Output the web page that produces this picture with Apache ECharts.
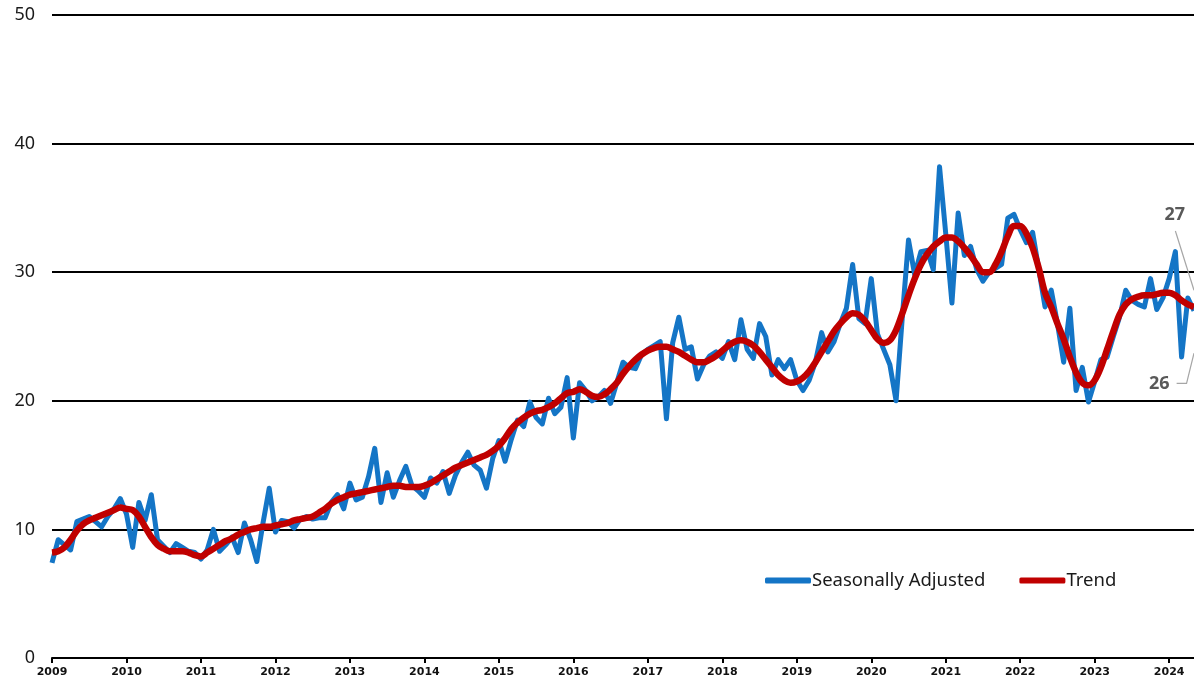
<!DOCTYPE html>
<html>
<head>
<meta charset="UTF-8">
<title>Seasonally Adjusted vs Trend</title>
<script src="https://cdn.jsdelivr.net/npm/echarts@6/dist/echarts.min.js"></script>
<style>
  html, body { margin: 0; padding: 0; background: #fff; }
  #main { width: 1194px; height: 685px; }
</style>
</head>
<body>
<div id="main"></div>
<script type="text/javascript">
// monthly data, Jan 2009 .. May 2024
var startYear = 2009;
var yearLabels = ['2009','2010','2011','2012','2013','2014','2015','2016','2017','2018','2019','2020','2021','2022','2023','2024'];

var seasonallyAdjusted = [
  // 2009
  7.4, 9.2, 8.8, 8.4, 10.6, 10.8, 11.0, 10.6, 10.2, 11.0, 11.6, 12.4,
  // 2010
  11.2, 8.6, 12.1, 10.7, 12.7, 9.2, 8.7, 8.2, 8.9, 8.6, 8.3, 8.2,
  // 2011
  7.7, 8.4, 10.0, 8.3, 8.8, 9.4, 8.2, 10.5, 9.2, 7.5, 10.5, 13.2,
  // 2012
  9.8, 10.7, 10.6, 10.1, 10.8, 11.0, 10.8, 10.9, 10.9, 12.1, 12.7, 11.6,
  // 2013
  13.6, 12.3, 12.5, 14.1, 16.3, 12.1, 14.4, 12.5, 13.8, 14.9, 13.4, 13.0,
  // 2014
  12.5, 14.0, 13.6, 14.5, 12.8, 14.2, 15.2, 16.0, 15.0, 14.6, 13.2, 15.5,
  // 2015
  16.9, 15.3, 17.0, 18.5, 18.0, 19.9, 18.7, 18.2, 20.2, 19.0, 19.5, 21.8,
  // 2016
  17.1, 21.4, 20.8, 20.0, 20.3, 20.8, 19.8, 21.4, 23.0, 22.6, 22.5, 23.6,
  // 2017
  24.0, 24.3, 24.6, 18.6, 24.5, 26.5, 24.0, 24.2, 21.7, 22.8, 23.5, 23.8,
  // 2018
  23.3, 24.6, 23.2, 26.3, 24.0, 23.3, 26.0, 25.0, 22.0, 23.2, 22.5, 23.2,
  // 2019
  21.6, 20.8, 21.6, 23.0, 25.3, 23.8, 24.6, 26.0, 27.2, 30.6, 26.4, 26.0,
  // 2020
  29.5, 25.2, 24.0, 22.8, 20.0, 26.5, 32.5, 29.8, 31.6, 31.7, 30.2, 38.2,
  // 2021
  33.0, 27.6, 34.6, 31.3, 32.0, 30.2, 29.3, 30.0, 30.3, 30.6, 34.2, 34.5,
  // 2022
  33.3, 32.3, 33.1, 30.2, 27.3, 28.6, 26.0, 23.0, 27.2, 20.8, 22.6, 19.9,
  // 2023
  21.5, 23.2, 23.4, 25.0, 26.5, 28.6, 27.8, 27.5, 27.3, 29.5, 27.1, 28.0,
  // 2024
  29.5, 31.6, 23.4, 28.0, 27.0
];

var trend = [
  // 2009
  8.2, 8.3, 8.6, 9.2, 9.9, 10.4, 10.7, 10.9, 11.1, 11.3, 11.5, 11.7,
  // 2010
  11.6, 11.5, 11.0, 10.2, 9.4, 8.8, 8.5, 8.3, 8.3, 8.3, 8.2, 8.0,
  // 2011
  7.9, 8.2, 8.5, 8.8, 9.1, 9.3, 9.6, 9.8, 10.0, 10.1, 10.2, 10.2,
  // 2012
  10.3, 10.4, 10.5, 10.7, 10.8, 10.9, 11.0, 11.3, 11.6, 12.0, 12.3, 12.5,
  // 2013
  12.7, 12.8, 12.9, 13.0, 13.1, 13.2, 13.3, 13.4, 13.4, 13.3, 13.3, 13.3,
  // 2014
  13.4, 13.6, 13.9, 14.2, 14.5, 14.8, 15.0, 15.2, 15.4, 15.6, 15.8, 16.1,
  // 2015
  16.5, 17.1, 17.8, 18.3, 18.7, 19.0, 19.2, 19.3, 19.5, 19.8, 20.2, 20.6,
  // 2016
  20.7, 20.9, 20.7, 20.4, 20.3, 20.5, 20.9, 21.4, 22.1, 22.7, 23.2, 23.6,
  // 2017
  23.9, 24.1, 24.2, 24.2, 24.0, 23.8, 23.5, 23.2, 23.0, 23.0, 23.2, 23.5,
  // 2018
  23.9, 24.3, 24.6, 24.7, 24.6, 24.3, 23.8, 23.2, 22.6, 22.0, 21.6, 21.4,
  // 2019
  21.5, 21.8, 22.3, 23.0, 23.8, 24.6, 25.4, 26.0, 26.5, 26.8, 26.7, 26.2,
  // 2020
  25.5, 24.8, 24.5, 24.7, 25.5, 26.8, 28.2, 29.5, 30.6, 31.4, 32.0, 32.4,
  // 2021
  32.7, 32.7, 32.4, 31.9, 31.3, 30.6, 30.0, 30.0, 30.6, 31.6, 32.8, 33.6,
  // 2022
  33.6, 33.0, 31.9, 30.3, 28.4, 27.3, 26.0, 24.8, 23.4, 22.2, 21.4, 21.2,
  // 2023
  21.6, 22.6, 24.0, 25.4, 26.7, 27.5, 27.9, 28.1, 28.2, 28.2, 28.3, 28.4,
  // 2024
  28.4, 28.2, 27.8, 27.5, 27.3
];

var yTicks = [0, 10, 20, 30, 40, 50];

function toPairs(arr) {
  var out = [];
  for (var i = 0; i < arr.length; i++) {
    out.push([i, arr[i]]);
  }
  return out;
}

var myChart = echarts.init(document.getElementById('main'));
var lastIdx = seasonallyAdjusted.length - 1;

var option = {
  animation: false,
  backgroundColor: '#ffffff',
  grid: { left: 52, right: 0, top: 15, bottom: 27 },
  legend: {
    left: 760, top: 566,
    itemWidth: 46, itemHeight: 6, itemGap: 34,
    icon: 'roundRect',
    textStyle: { fontFamily: 'Noto Sans', fontSize: 18.5, color: '#1a1a1a', padding: [0, 0, 0, -4] },
    data: ['Seasonally Adjusted', 'Trend']
  },
  xAxis: {
    type: 'value',
    min: 0, max: lastIdx, interval: 12,
    axisLine: { show: true, lineStyle: { color: '#000', width: 2 } },
    axisTick: { show: true, length: 5, lineStyle: { color: '#000', width: 2 } },
    axisLabel: {
      fontFamily: 'DejaVu Sans', fontWeight: 'bold', fontSize: 11, color: '#111', margin: 9,
      showMaxLabel: false,
      formatter: function (v) { return yearLabels[Math.round(v / 12)] || ''; }
    },
    splitLine: { show: false }
  },
  yAxis: {
    type: 'value',
    min: yTicks[0], max: yTicks[yTicks.length - 1], interval: 10,
    axisLine: { show: false },
    axisTick: { show: false },
    axisLabel: { fontFamily: 'Noto Sans', fontSize: 18, color: '#1a1a1a', margin: 17 },
    splitLine: { show: true, lineStyle: { color: '#000', width: 2 } }
  },
  series: [
    {
      name: 'Seasonally Adjusted',
      type: 'line',
      data: toPairs(seasonallyAdjusted),
      symbol: 'none',
      color: '#1475C6',
      lineStyle: { width: 5, color: '#1475C6', join: 'round' },
      z: 2
    },
    {
      name: 'Trend',
      type: 'line',
      data: toPairs(trend),
      symbol: 'none',
      smooth: 0.35,
      color: '#C00000',
      lineStyle: { width: 6.5, color: '#C00000' },
      z: 3
    }
  ]
};
myChart.setOption(option);

// callout labels on the right edge, placed in data space
function px(m, v) { return myChart.convertToPixel({ gridIndex: 0 }, [m, v]); }
var p27 = px(180.9, 34.45), a27 = px(181.0, 33.2), b27 = px(lastIdx, 28.6);
var p26 = px(178.4, 21.35), a26 = px(181.2, 21.35), c26 = px(182.8, 21.35), d26 = px(lastIdx, 23.7);
myChart.setOption({
  graphic: [
    { type: 'text', x: p27[0], y: p27[1], style: { text: '27', fontFamily: 'Noto Sans', fontWeight: 'bold', fontSize: 18, fill: '#595959', align: 'center', verticalAlign: 'middle' } },
    { type: 'polyline', shape: { points: [a27, b27] }, style: { stroke: '#a6a6a6', lineWidth: 1.2, fill: null } },
    { type: 'text', x: p26[0], y: p26[1], style: { text: '26', fontFamily: 'Noto Sans', fontWeight: 'bold', fontSize: 18, fill: '#595959', align: 'center', verticalAlign: 'middle' } },
    { type: 'polyline', shape: { points: [a26, c26, d26] }, style: { stroke: '#a6a6a6', lineWidth: 1.2, fill: null } }
  ]
});
</script>
</body>
</html>
